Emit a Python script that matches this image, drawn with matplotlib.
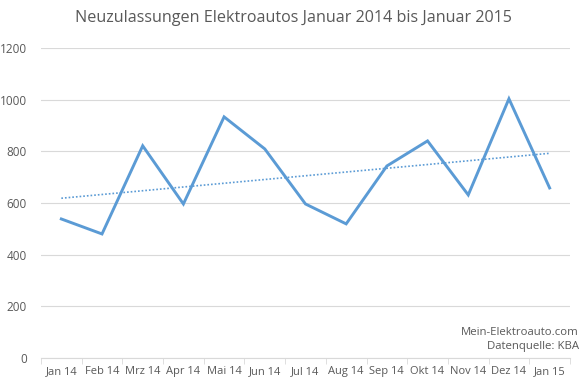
import numpy as np
import matplotlib.pyplot as plt

months = ["Jan 14", "Feb 14", "Mrz 14", "Apr 14", "Mai 14", "Jun 14", "Jul 14",
          "Aug 14", "Sep 14", "Okt 14", "Nov 14", "Dez 14", "Jan 15"]
registrations = [538, 480, 821, 596, 933, 809, 596, 519, 743, 840, 631, 1003, 658]
yticks = [0, 200, 400, 600, 800, 1000, 1200]

BLUE = "#5b9bd5"
GREY = "#595959"

plt.rcParams["font.family"] = ["Open Sans", "DejaVu Sans"]

fig = plt.figure(figsize=(5.87, 3.86), dpi=100)
ax = fig.add_axes([0.0698, 0.0725, 0.9012, 0.8035])

x = np.arange(len(months))
ax.plot(x, registrations, color=BLUE, lw=2.1, solid_joinstyle="miter", zorder=3)

# linear trend line (Excel style)
k, d = np.polyfit(x, registrations, 1)
ax.plot(x, k * x + d, color=BLUE, lw=1.2, ls=(0, (1, 1.2)), zorder=2)

ax.set_xlim(-0.5, len(months) - 0.5)
ax.set_ylim(0, 1200)
ax.set_yticks(yticks)
ax.set_xticks(x)
ax.set_xticklabels(months)
ax.set_xticks(np.arange(-0.5, len(months)), minor=True)

for s in ["top", "right", "left"]:
    ax.spines[s].set_visible(False)
ax.spines["bottom"].set_color("#d9d9d9")
ax.grid(axis="y", color="#d9d9d9", lw=0.8)
ax.set_axisbelow(True)

ax.tick_params(axis="y", length=0, labelsize=8.5, labelcolor=GREY, pad=10)
ax.tick_params(axis="x", which="major", length=0, labelsize=8, labelcolor=GREY, pad=6)
ax.tick_params(axis="x", which="minor", length=4, color="#d9d9d9")

fig.text(0.5, 0.953, "Neuzulassungen Elektroautos Januar 2014 bis Januar 2015",
         ha="center", va="center", fontsize=11.6, color=GREY)
ax.text(1.017, 0.02, "Mein-Elektroauto.com\nDatenquelle: KBA", transform=ax.transAxes,
        ha="right", va="bottom", fontsize=8.2, color=GREY, linespacing=1.35)

fig.savefig("out.png")
